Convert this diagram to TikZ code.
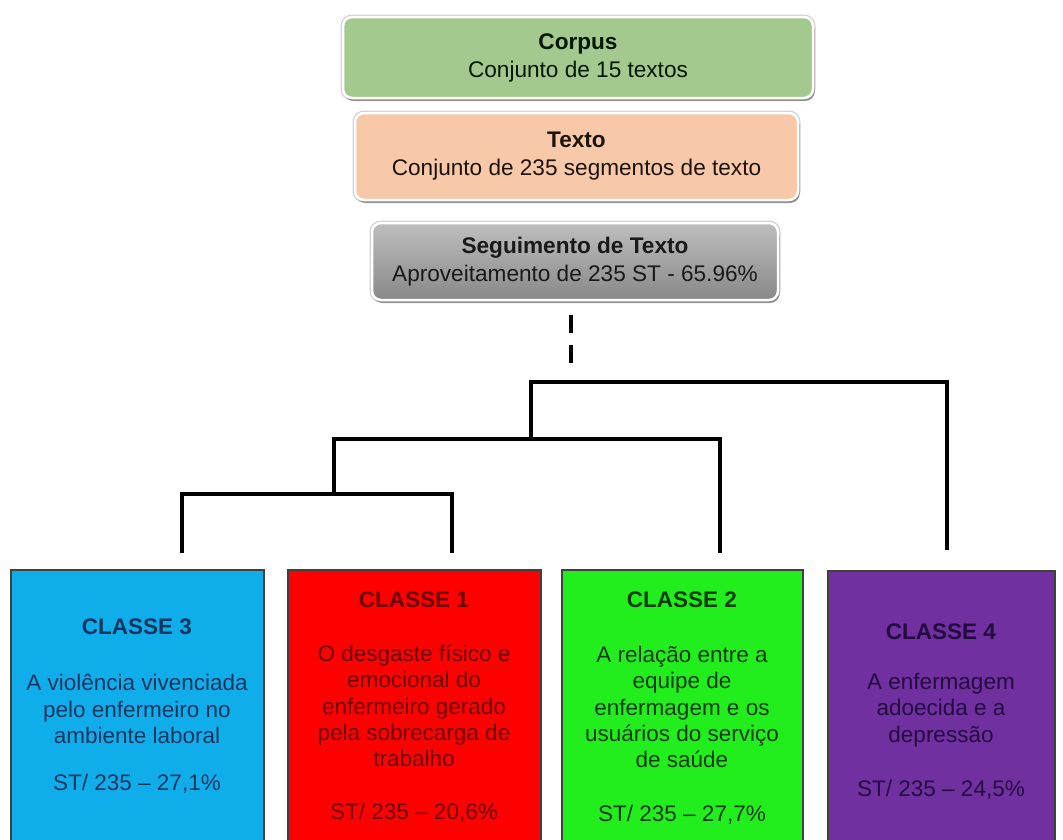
\documentclass[tikz,border=0pt]{standalone}
\usepackage{fontspec}
\setmainfont{Liberation Sans}
\usetikzlibrary{shadows}
\definecolor{corpusfill}{HTML}{A4C98E}
\definecolor{textofill}{HTML}{F7C9A9}
\definecolor{segtop}{HTML}{BEBEBE}
\definecolor{segbot}{HTML}{888888}
\definecolor{c3fill}{HTML}{0FAEEB}
\definecolor{c1fill}{HTML}{FF0000}
\definecolor{c2fill}{HTML}{22EE1E}
\definecolor{c4fill}{HTML}{7030A0}
\definecolor{c3txt}{HTML}{123560}
\definecolor{c1txt}{HTML}{6A0000}
\definecolor{c2txt}{HTML}{0A3A0A}
\definecolor{c4txt}{HTML}{230A40}
\tikzset{
  topbox/.style={rounded corners=9pt, draw=white, line width=2.5pt,
    preaction={draw=black!18, line width=5pt},
    drop shadow={shadow xshift=1.5pt, shadow yshift=-3pt, opacity=0.35, fill=black},
    align=center, inner sep=0pt,
    font=\fontsize{22.6}{28}\selectfont},
  classbox/.style={draw=black!75, line width=1.5pt, anchor=north west,
    minimum height=300pt, inner sep=0pt},
  classtitle/.style={font=\bfseries\fontsize{22.5}{26}\selectfont},
  classtext/.style={font=\fontsize{22.5}{26.2}\selectfont, align=center},
  tree/.style={draw=black, line width=3.2pt, line join=miter}
}
\begin{document}
\begin{tikzpicture}[x=1pt,y=-1pt]
\path[use as bounding box] (0,0) rectangle (1063,839);
\clip (0,0) rectangle (1063,839);
\fill[white] (0,0) rectangle (1063,839);

% top boxes
\node[topbox, fill=corpusfill, text=black!85!green!60!black,
      minimum width=470pt, minimum height=81pt] (corpus) at (578,57.5)
  {\textbf{Corpus}\\Conjunto de 15 textos};
\node[topbox, fill=textofill, text=black!85!brown,
      minimum width=443pt, minimum height=87pt] (texto) at (576.5,156.5)
  {\textbf{Texto}\\Conjunto de 235 segmentos de texto};
\node[topbox, top color=segtop, bottom color=segbot, text=black!90,
      minimum width=406pt, minimum height=77pt] (seg) at (575,261.5)
  {\textbf{Seguimento de Texto}\\Aproveitamento de 235 ST - 65.96\%};

% class boxes
\node[classbox, fill=c3fill, minimum width=253pt] (c3box) at (10,569) {};
\node[classbox, fill=c1fill, minimum width=253pt] (c1box) at (287,569) {};
\node[classbox, fill=c2fill, minimum width=241pt] (c2box) at (561,569) {};
\node[classbox, fill=c4fill, minimum width=227pt] (c4box) at (827,570) {};

% class texts
\node[classtitle, text=c3txt] (c3title) at (137,627) {CLASSE 3};
\node[classtext, text=c3txt] (c3desc) at (137,709)
  {A violência vivenciada\\pelo enfermeiro no\\ambiente laboral};
\node[classtext, text=c3txt] (c3st) at (137,784) {ST/ 235 – 27,1\%};

\node[classtitle, text=c1txt] (c1title) at (414,600) {CLASSE 1};
\node[classtext, text=c1txt] (c1desc) at (414,706)
  {O desgaste físico e\\emocional do\\enfermeiro gerado\\pela sobrecarga de\\trabalho};
\node[classtext, text=c1txt] (c1st) at (414,813) {ST/ 235 – 20,6\%};

\node[classtitle, text=c2txt] (c2title) at (682,600) {CLASSE 2};
\node[classtext, text=c2txt] (c2desc) at (682,707)
  {A relação entre a\\equipe de\\enfermagem e os\\usuários do serviço\\de saúde};
\node[classtext, text=c2txt] (c2st) at (682,815) {ST/ 235 – 27,7\%};

\node[classtitle, text=c4txt] (c4title) at (941,632) {CLASSE 4};
\node[classtext, text=c4txt] (c4desc) at (941,710)
  {A enfermagem\\adoecida e a\\depressão};
\node[classtext, text=c4txt] (c4st) at (941,790) {ST/ 235 – 24,5\%};

% dendrogram
\coordinate (dtop) at (571,315);
\coordinate (dbot) at (571,366);
\draw[tree, dash pattern=on 18pt off 12pt] (dtop) -- (dbot);

\coordinate (ra) at (531,382);
\coordinate (rb) at (947,382);
\coordinate (rleg) at (947,550);
\coordinate (ma) at (334,439);
\coordinate (mj) at (531,439);
\coordinate (mb) at (720,439);
\coordinate (mleg) at (720,553);
\coordinate (ba) at (182,494);
\coordinate (bj) at (334,494);
\coordinate (bb) at (452,494);
\coordinate (bleg1) at (182,553);
\coordinate (bleg2) at (452,553);

\draw[tree] (mj) -- (ra) -- (rb) -- (rleg);
\draw[tree] (bj) -- (ma) -- (mb) -- (mleg);
\draw[tree] (bleg1) -- (ba) -- (bb) -- (bleg2);
\end{tikzpicture}
\end{document}
